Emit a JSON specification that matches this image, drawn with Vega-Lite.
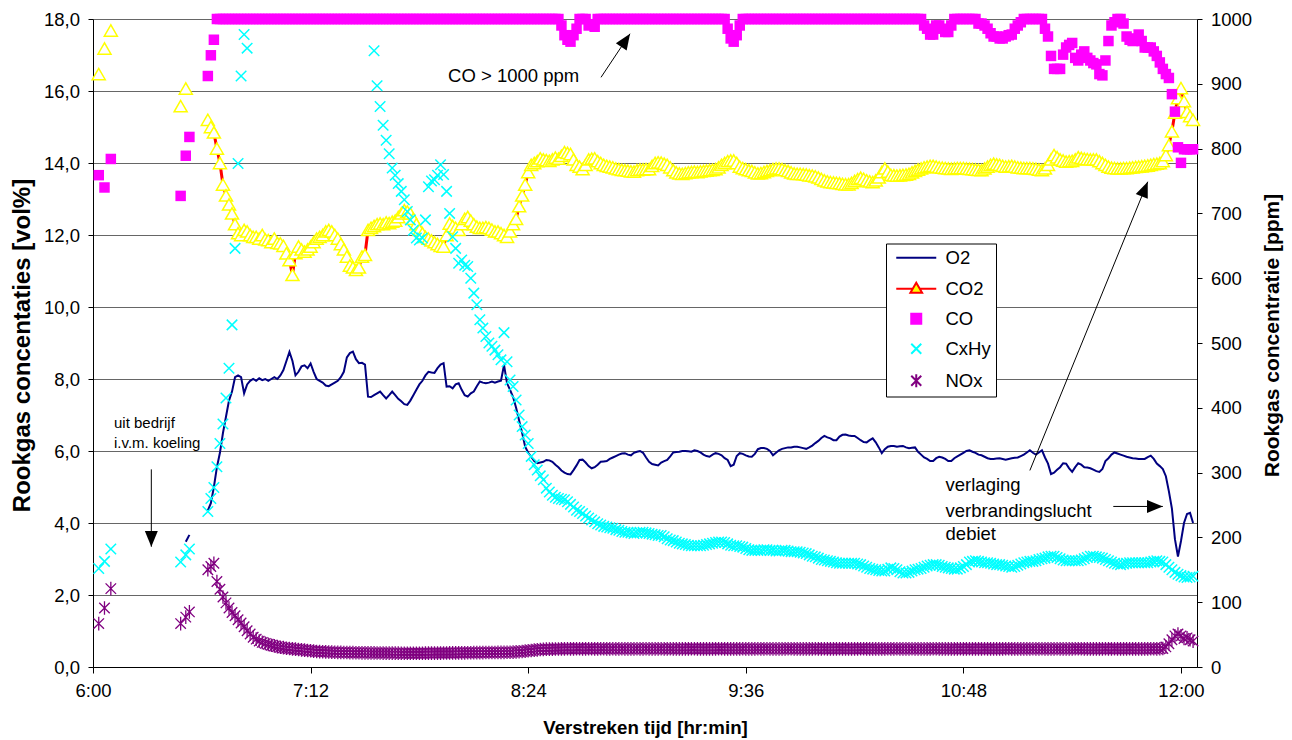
{
"$schema":"https://vega.github.io/schema/vega-lite/v6.json",
"width":1104,"height":648,
"autosize":{"type":"none"},
"padding":{"left":93,"top":19,"right":95,"bottom":73},
"background":"white",
"config":{"view":{"stroke":null},"font":"Liberation Sans","point":{"opacity":1},
"legend":{"padding":5,"strokeColor":"black","fillColor":"white","symbolOffset":16,"labelOffset":20,"rowPadding":11,"labelFontSize":18.5,"labelFont":"Liberation Sans","labelColor":"black","symbolSize":100,"symbolStrokeWidth":2,"labelLimit":0,"cornerRadius":0}},
"datasets":{
"gas":[
{"t":1.9,"s":11,"CO2":16.47,"CO":759,"CxHy":152,"NOx":67},
{"t":3.8,"s":12,"CO2":17.18,"CO":740,"CxHy":163,"NOx":91},
{"t":5.9,"s":13,"CO2":17.68,"CO":784,"CxHy":182,"NOx":121},
{"t":29,"s":21,"CO2":15.58,"CO":727,"CxHy":162,"NOx":67},
{"t":30.7,"s":22,"O2":3.48,"CO2":16.07,"CO":789,"CxHy":173,"NOx":77},
{"t":31.9,"s":22,"O2":3.67,"CO":818,"CxHy":182,"NOx":85},
{"t":38,"s":3,"O2":4.35,"CO2":15.2,"CO":912,"CxHy":240,"NOx":150},
{"t":39,"s":3,"O2":4.55,"CO2":15.0,"CO":944,"CxHy":260,"NOx":155},
{"t":40,"s":3,"O2":5.0,"CO2":14.85,"CO":968,"CxHy":277,"NOx":160},
{"t":41,"s":3,"O2":5.55,"CO2":14.4,"CO":1000,"CxHy":309,"NOx":132},
{"t":42,"s":3,"O2":5.95,"CO2":14.0,"CO":1000,"CxHy":345,"NOx":120},
{"t":43,"s":3,"O2":6.5,"CO2":13.4,"CO":1000,"CxHy":375,"NOx":108},
{"t":44,"s":3,"O2":6.95,"CO2":13.1,"CO":1000,"CxHy":415,"NOx":99},
{"t":45,"s":3,"O2":7.4,"CO2":12.85,"CO":1000,"CxHy":461,"NOx":91},
{"t":46,"s":3,"O2":7.65,"CO2":12.6,"CO":1000,"CxHy":528,"NOx":84},
{"t":47,"s":3,"O2":8.05,"CO2":12.3,"CO":1000,"CxHy":646,"NOx":79},
{"t":48,"s":3,"O2":8.1,"CO2":12.05,"CO":1000,"CxHy":777,"NOx":73},
{"t":49,"s":3,"O2":8.05,"CO2":12.0,"CO":1000,"CxHy":912,"NOx":68},
{"t":50,"s":3,"O2":7.6,"CO2":12.14,"CO":1000,"CxHy":976,"NOx":62},
{"t":51,"s":3,"O2":7.85,"CO2":12.1,"CO":1000,"CxHy":955,"NOx":56},
{"t":52,"s":3,"O2":7.95,"CO2":12.0,"CO":1000,"NOx":51},
{"t":53,"s":3,"O2":8.0,"CO2":11.95,"CO":1000,"NOx":46},
{"t":54,"s":3,"O2":7.95,"CO2":11.95,"CO":1000,"NOx":43},
{"t":55,"s":3,"O2":8.02,"CO2":11.9,"CO":1000,"NOx":40},
{"t":56,"s":3,"O2":7.97,"CO2":12.0,"CO":1000,"NOx":38},
{"t":57,"s":3,"O2":8.0,"CO2":11.88,"CO":1000,"NOx":36.5},
{"t":58,"s":3,"O2":7.95,"CO2":11.86,"CO":1000,"NOx":35},
{"t":59,"s":3,"O2":8.0,"CO2":11.8,"CO":1000,"NOx":33.5},
{"t":60,"s":3,"O2":8.05,"CO2":11.9,"CO":1000,"NOx":32.5},
{"t":61,"s":3,"O2":8.0,"CO2":11.78,"CO":1000,"NOx":31.5},
{"t":62,"s":3,"O2":8.1,"CO2":11.77,"CO":1000,"NOx":30.5},
{"t":63,"s":3,"O2":8.25,"CO2":11.7,"CO":1000,"NOx":29.8},
{"t":64,"s":3,"O2":8.5,"CO2":11.49,"CO":1000,"NOx":29},
{"t":65,"s":3,"O2":8.75,"CO2":11.3,"CO":1000,"NOx":28.5},
{"t":66,"s":3,"O2":8.5,"CO2":10.89,"CO":1000,"NOx":28},
{"t":67,"s":3,"O2":8.1,"CO2":11.5,"CO":1000,"NOx":27.5},
{"t":68,"s":3,"O2":8.2,"CO2":11.68,"CO":1000,"NOx":27},
{"t":69,"s":3,"O2":8.35,"CO2":11.6,"CO":1000,"NOx":26.5},
{"t":70,"s":3,"O2":8.38,"CO2":11.54,"CO":1000,"NOx":26},
{"t":71,"s":3,"O2":8.3,"CO2":11.6,"CO":1000,"NOx":25.5},
{"t":72,"s":3,"O2":8.43,"CO2":11.68,"CO":1000,"NOx":25},
{"t":73,"s":3,"O2":8.2,"CO2":11.8,"CO":1000,"NOx":24.5},
{"t":74,"s":3,"O2":8.0,"CO2":11.9,"CO":1000,"NOx":24},
{"t":75,"s":3,"O2":7.95,"CO2":11.95,"CO":1000,"NOx":23.8},
{"t":76,"s":3,"O2":7.9,"CO2":12.0,"CO":1000,"NOx":23.6},
{"t":77,"s":3,"O2":7.82,"CO2":12.1,"CO":1000,"NOx":23.4},
{"t":78,"s":3,"O2":7.8,"CO2":12.14,"CO":1000,"NOx":23.2},
{"t":79,"s":3,"O2":7.85,"CO2":12.1,"CO":1000,"NOx":23},
{"t":80,"s":3,"O2":7.9,"CO2":12.0,"CO":1000,"NOx":22.8},
{"t":81,"s":3,"O2":7.95,"CO2":11.9,"CO":1000,"NOx":22.6},
{"t":82,"s":3,"O2":8.05,"CO2":11.75,"CO":1000,"NOx":22.5},
{"t":83,"s":3,"O2":8.2,"CO2":11.6,"CO":1000,"NOx":22.4},
{"t":84,"s":3,"O2":8.6,"CO2":11.4,"CO":1000,"NOx":22.3},
{"t":85,"s":3,"O2":8.72,"CO2":11.15,"CO":1000,"NOx":22.2},
{"t":86,"s":3,"O2":8.76,"CO2":11.1,"CO":1000,"NOx":22.1},
{"t":87,"s":3,"O2":8.55,"CO2":11.03,"CO":1000,"NOx":22},
{"t":88,"s":3,"O2":8.44,"CO2":11.1,"CO":1000,"NOx":22},
{"t":89,"s":3,"O2":8.45,"CO2":11.4,"CO":1000,"NOx":21.9},
{"t":90,"s":3,"O2":8.4,"CO2":11.45,"CO":1000,"NOx":21.8},
{"t":91,"s":3,"O2":7.51,"CO2":12.14,"CO":1000,"NOx":21.8},
{"t":92,"s":3,"O2":7.5,"CO2":12.2,"CO":1000,"NOx":21.7},
{"t":93,"s":3,"O2":7.55,"CO2":12.25,"CO":1000,"CxHy":951,"NOx":21.7},
{"t":94,"s":3,"O2":7.6,"CO2":12.3,"CO":1000,"CxHy":897,"NOx":21.6},
{"t":95,"s":3,"O2":7.65,"CO2":12.32,"CO":1000,"CxHy":865,"NOx":21.6},
{"t":96,"s":3,"O2":7.55,"CO2":12.3,"CO":1000,"CxHy":836,"NOx":21.5},
{"t":97,"s":3,"O2":7.46,"CO2":12.35,"CO":1000,"CxHy":813,"NOx":21.5},
{"t":98,"s":3,"O2":7.55,"CO2":12.33,"CO":1000,"CxHy":792,"NOx":21.5},
{"t":99,"s":3,"O2":7.65,"CO2":12.37,"CO":1000,"CxHy":770,"NOx":21.4},
{"t":100,"s":3,"O2":7.55,"CO2":12.4,"CO":1000,"CxHy":759,"NOx":21.4},
{"t":101,"s":3,"O2":7.45,"CO2":12.5,"CO":1000,"CxHy":746,"NOx":21.4},
{"t":102,"s":3,"O2":7.38,"CO2":12.6,"CO":1000,"CxHy":734,"NOx":21.3},
{"t":103,"s":3,"O2":7.3,"CO2":12.69,"CO":1000,"CxHy":721,"NOx":21.3},
{"t":104,"s":3,"O2":7.28,"CO2":12.65,"CO":1000,"CxHy":703,"NOx":21.3},
{"t":105,"s":3,"O2":7.4,"CO2":12.6,"CO":1000,"CxHy":690,"NOx":21.3},
{"t":106,"s":3,"O2":7.55,"CO2":12.45,"CO":1000,"CxHy":674,"NOx":21.3},
{"t":107,"s":3,"O2":7.7,"CO2":12.3,"CO":1000,"CxHy":662,"NOx":21.3},
{"t":108,"s":3,"O2":7.85,"CO2":12.14,"CO":1000,"CxHy":659,"NOx":21.3},
{"t":109,"s":3,"O2":7.95,"CO2":12.05,"CO":1000,"CxHy":662,"NOx":21.3},
{"t":110,"s":3,"O2":8.1,"CO2":11.95,"CO":1000,"CxHy":690,"NOx":21.4},
{"t":111,"s":3,"O2":8.2,"CO2":11.9,"CO":1000,"CxHy":741,"NOx":21.4},
{"t":112,"s":3,"O2":8.18,"CO2":11.85,"CO":1000,"CxHy":750,"NOx":21.4},
{"t":113,"s":3,"O2":8.17,"CO2":11.8,"CO":1000,"CxHy":752,"NOx":21.5},
{"t":114,"s":3,"O2":8.3,"CO2":11.75,"CO":1000,"CxHy":759,"NOx":21.5},
{"t":115,"s":3,"O2":8.4,"CO2":11.7,"CO":1000,"CxHy":775,"NOx":21.5},
{"t":116,"s":3,"O2":8.44,"CO2":11.68,"CO":1000,"CxHy":760,"NOx":21.6},
{"t":117,"s":3,"O2":7.79,"CO2":12.0,"CO":1000,"CxHy":734,"NOx":21.6},
{"t":118,"s":3,"O2":7.8,"CO2":12.32,"CO":1000,"CxHy":700,"NOx":21.7},
{"t":119,"s":3,"O2":7.74,"CO2":12.25,"CO":1000,"CxHy":664,"NOx":21.7},
{"t":120,"s":3,"O2":7.85,"CO2":12.2,"CO":1000,"CxHy":646,"NOx":21.8},
{"t":121,"s":3,"O2":7.88,"CO2":12.14,"CO":1000,"CxHy":623,"NOx":21.8},
{"t":122,"s":3,"O2":7.7,"CO2":12.3,"CO":1000,"CxHy":628,"NOx":21.9},
{"t":123,"s":3,"O2":7.55,"CO2":12.45,"CO":1000,"CxHy":620,"NOx":21.9},
{"t":124,"s":3,"O2":7.51,"CO2":12.5,"CO":1000,"CxHy":618,"NOx":22},
{"t":125,"s":3,"O2":7.6,"CO2":12.4,"CO":1000,"CxHy":600,"NOx":22},
{"t":126,"s":3,"O2":7.65,"CO2":12.3,"CO":1000,"CxHy":577,"NOx":22.1},
{"t":127,"s":3,"O2":7.8,"CO2":12.23,"CO":1000,"CxHy":559,"NOx":22.1},
{"t":128,"s":3,"O2":7.93,"CO2":12.2,"CO":1000,"CxHy":536,"NOx":22.2},
{"t":129,"s":3,"O2":7.9,"CO2":12.2,"CO":1000,"CxHy":523,"NOx":22.2},
{"t":130,"s":3,"O2":7.88,"CO2":12.22,"CO":1000,"CxHy":510,"NOx":22.3},
{"t":131,"s":3,"O2":7.9,"CO2":12.2,"CO":1000,"CxHy":500,"NOx":22.3},
{"t":132,"s":3,"O2":7.93,"CO2":12.15,"CO":1000,"CxHy":495,"NOx":22.4},
{"t":133,"s":3,"O2":7.9,"CO2":12.1,"CO":1000,"CxHy":489,"NOx":22.4},
{"t":134,"s":3,"O2":7.93,"CO2":12.1,"CO":1000,"CxHy":482,"NOx":22.5},
{"t":135,"s":3,"O2":7.95,"CO2":12.05,"CO":1000,"CxHy":474,"NOx":22.5},
{"t":136,"s":3,"O2":8.39,"CO2":12.0,"CO":1000,"CxHy":516,"NOx":22.6},
{"t":137,"s":3,"O2":7.88,"CO2":11.95,"CO":1000,"CxHy":471,"NOx":22.7},
{"t":138,"s":3,"O2":7.7,"CO2":12.1,"CO":1000,"CxHy":443,"NOx":22.8},
{"t":139,"s":3,"O2":7.5,"CO2":12.3,"CO":1000,"CxHy":433,"NOx":23},
{"t":140,"s":3,"O2":7.2,"CO2":12.45,"CO":1000,"CxHy":412,"NOx":23.3},
{"t":141,"s":3,"O2":6.85,"CO2":12.8,"CO":1000,"CxHy":389,"NOx":23.6},
{"t":142,"s":3,"O2":6.5,"CO2":13.1,"CO":1000,"CxHy":371,"NOx":24},
{"t":143,"s":3,"O2":6.12,"CO2":13.4,"CO":1000,"CxHy":358,"NOx":24.5},
{"t":144,"s":3,"O2":5.95,"CO2":13.75,"CO":1000,"CxHy":345,"NOx":25},
{"t":145,"s":3,"O2":5.84,"CO2":13.95,"CO":1000,"CxHy":325,"NOx":25.5},
{"t":146,"s":3,"O2":5.72,"CO2":14.0,"CO":1000,"CxHy":312,"NOx":26},
{"t":147,"s":3,"O2":5.66,"CO2":14.05,"CO":1000,"CxHy":304,"NOx":26.5},
{"t":148,"s":3,"O2":5.68,"CO2":14.13,"CO":1000,"CxHy":295,"NOx":27},
{"t":149,"s":3,"O2":5.7,"CO2":14.1,"CO":1000,"CxHy":289,"NOx":27.2},
{"t":150,"s":3,"O2":5.75,"CO2":14.08,"CO":1000,"CxHy":276,"NOx":27.5},
{"t":151,"s":3,"O2":5.74,"CO2":14.06,"CO":1000,"CxHy":270,"NOx":27.5},
{"t":152,"s":3,"O2":5.7,"CO2":14.1,"CO":1000,"CxHy":265,"NOx":27.6},
{"t":153,"s":3,"O2":5.62,"CO2":14.15,"CO":1000,"CxHy":262,"NOx":27.7},
{"t":154,"s":3,"O2":5.55,"CO2":14.12,"CO":1000,"CxHy":260,"NOx":27.8},
{"t":155,"s":3,"O2":5.46,"CO2":14.2,"CO":990,"CxHy":259,"NOx":27.9},
{"t":156,"s":3,"O2":5.4,"CO2":14.3,"CO":975,"CxHy":258,"NOx":28},
{"t":157,"s":3,"O2":5.36,"CO2":14.28,"CO":968,"CxHy":255,"NOx":28.1},
{"t":158,"s":3,"O2":5.35,"CO2":14.25,"CO":965,"CxHy":251,"NOx":28},
{"t":159,"s":3,"O2":5.47,"CO2":14.1,"CO":975,"CxHy":247,"NOx":28},
{"t":160,"s":3,"O2":5.6,"CO2":13.95,"CO":985,"CxHy":242,"NOx":28.2},
{"t":161,"s":3,"O2":5.75,"CO2":13.9,"CO":1000,"CxHy":240,"NOx":28.1},
{"t":162,"s":3,"O2":5.76,"CO2":13.83,"CO":1000,"CxHy":237,"NOx":28},
{"t":163,"s":3,"O2":5.68,"CO2":13.95,"CO":1000,"CxHy":233,"NOx":27.9},
{"t":164,"s":3,"O2":5.58,"CO2":14.1,"CO":990,"CxHy":230,"NOx":28.1},
{"t":165,"s":3,"O2":5.52,"CO2":14.12,"CO":992,"CxHy":227,"NOx":28.1},
{"t":166,"s":3,"O2":5.55,"CO2":14.13,"CO":988,"CxHy":224,"NOx":28},
{"t":167,"s":3,"O2":5.62,"CO2":14.05,"CO":1000,"CxHy":221,"NOx":28},
{"t":168,"s":3,"O2":5.7,"CO2":14.0,"CO":1000,"CxHy":219,"NOx":28.2},
{"t":169,"s":3,"O2":5.71,"CO2":13.95,"CO":1000,"CxHy":217,"NOx":28.1},
{"t":170,"s":3,"O2":5.72,"CO2":13.92,"CO":1000,"CxHy":216,"NOx":28},
{"t":171,"s":3,"O2":5.78,"CO2":13.9,"CO":1000,"CxHy":215,"NOx":27.9},
{"t":172,"s":3,"O2":5.82,"CO2":13.88,"CO":1000,"CxHy":214,"NOx":28.1},
{"t":173,"s":3,"O2":5.86,"CO2":13.85,"CO":1000,"CxHy":212,"NOx":28},
{"t":174,"s":3,"O2":5.9,"CO2":13.83,"CO":1000,"CxHy":211,"NOx":28},
{"t":175,"s":3,"O2":5.93,"CO2":13.81,"CO":1000,"CxHy":209,"NOx":28.1},
{"t":176,"s":3,"O2":5.94,"CO2":13.8,"CO":1000,"CxHy":208,"NOx":27.9},
{"t":177,"s":3,"O2":5.9,"CO2":13.79,"CO":1000,"CxHy":208,"NOx":28},
{"t":178,"s":3,"O2":5.88,"CO2":13.77,"CO":1000,"CxHy":207,"NOx":28},
{"t":179,"s":3,"O2":5.95,"CO2":13.76,"CO":1000,"CxHy":206,"NOx":27.9},
{"t":180,"s":3,"O2":5.98,"CO2":13.8,"CO":1000,"CxHy":207,"NOx":28.1},
{"t":181,"s":3,"O2":6.0,"CO2":13.82,"CO":1000,"CxHy":208,"NOx":28},
{"t":182,"s":3,"O2":5.95,"CO2":13.82,"CO":1000,"CxHy":208,"NOx":28},
{"t":183,"s":3,"O2":5.82,"CO2":13.83,"CO":1000,"CxHy":207,"NOx":28.1},
{"t":184,"s":3,"O2":5.7,"CO2":13.83,"CO":1000,"CxHy":206,"NOx":27.9},
{"t":185,"s":3,"O2":5.64,"CO2":13.92,"CO":1000,"CxHy":205,"NOx":28},
{"t":186,"s":3,"O2":5.62,"CO2":14.0,"CO":1000,"CxHy":204,"NOx":28},
{"t":187,"s":3,"O2":5.6,"CO2":14.02,"CO":1000,"CxHy":203,"NOx":27.9},
{"t":188,"s":3,"O2":5.68,"CO2":14.01,"CO":1000,"CxHy":203,"NOx":28.1},
{"t":189,"s":3,"O2":5.72,"CO2":13.98,"CO":1000,"CxHy":201,"NOx":28},
{"t":190,"s":3,"O2":5.75,"CO2":13.95,"CO":1000,"CxHy":198,"NOx":28},
{"t":191,"s":3,"O2":5.85,"CO2":13.88,"CO":1000,"CxHy":196,"NOx":28.1},
{"t":192,"s":3,"O2":5.96,"CO2":13.8,"CO":1000,"CxHy":195,"NOx":27.9},
{"t":193,"s":3,"O2":5.97,"CO2":13.74,"CO":1000,"CxHy":193,"NOx":28},
{"t":194,"s":3,"O2":5.98,"CO2":13.71,"CO":1000,"CxHy":191,"NOx":28},
{"t":195,"s":3,"O2":6.0,"CO2":13.7,"CO":1000,"CxHy":190,"NOx":27.9},
{"t":196,"s":3,"O2":6.0,"CO2":13.72,"CO":1000,"CxHy":189,"NOx":28},
{"t":197,"s":3,"O2":5.99,"CO2":13.74,"CO":1000,"CxHy":188,"NOx":28},
{"t":198,"s":3,"O2":5.98,"CO2":13.75,"CO":1000,"CxHy":187,"NOx":28.1},
{"t":199,"s":3,"O2":6.02,"CO2":13.76,"CO":1000,"CxHy":187,"NOx":28.1},
{"t":200,"s":3,"O2":6.0,"CO2":13.75,"CO":1000,"CxHy":187,"NOx":28},
{"t":201,"s":3,"O2":5.96,"CO2":13.77,"CO":1000,"CxHy":187,"NOx":28},
{"t":202,"s":3,"O2":5.9,"CO2":13.78,"CO":1000,"CxHy":188,"NOx":27.9},
{"t":203,"s":3,"O2":5.86,"CO2":13.79,"CO":1000,"CxHy":189,"NOx":27.9},
{"t":204,"s":3,"O2":5.84,"CO2":13.8,"CO":1000,"CxHy":190,"NOx":28},
{"t":205,"s":3,"O2":5.9,"CO2":13.81,"CO":1000,"CxHy":191,"NOx":28},
{"t":206,"s":3,"O2":5.94,"CO2":13.83,"CO":1000,"CxHy":192,"NOx":28},
{"t":207,"s":3,"O2":5.92,"CO2":13.88,"CO":1000,"CxHy":193,"NOx":28.1},
{"t":208,"s":3,"O2":5.88,"CO2":13.95,"CO":1000,"CxHy":193,"NOx":28.1},
{"t":209,"s":3,"O2":5.8,"CO2":14.0,"CO":1000,"CxHy":192,"NOx":28},
{"t":210,"s":3,"O2":5.75,"CO2":14.05,"CO":985,"CxHy":190,"NOx":28},
{"t":211,"s":3,"O2":5.58,"CO2":14.07,"CO":970,"CxHy":188,"NOx":27.9},
{"t":212,"s":3,"O2":5.62,"CO2":14.07,"CO":965,"CxHy":187,"NOx":28},
{"t":213,"s":3,"O2":5.86,"CO2":14.0,"CO":975,"CxHy":187,"NOx":28},
{"t":214,"s":3,"O2":5.94,"CO2":13.9,"CO":990,"CxHy":186,"NOx":27.9},
{"t":215,"s":3,"O2":5.92,"CO2":13.86,"CO":1000,"CxHy":185,"NOx":28.1},
{"t":216,"s":3,"O2":5.88,"CO2":13.83,"CO":1000,"CxHy":183,"NOx":28},
{"t":217,"s":3,"O2":5.85,"CO2":13.8,"CO":1000,"CxHy":181,"NOx":28},
{"t":218,"s":3,"O2":5.84,"CO2":13.78,"CO":1000,"CxHy":180,"NOx":28},
{"t":219,"s":3,"O2":5.92,"CO2":13.74,"CO":1000,"CxHy":180,"NOx":27.9},
{"t":220,"s":3,"O2":6.05,"CO2":13.71,"CO":1000,"CxHy":180,"NOx":28.1},
{"t":221,"s":3,"O2":6.08,"CO2":13.72,"CO":1000,"CxHy":180,"NOx":28},
{"t":222,"s":3,"O2":6.08,"CO2":13.75,"CO":1000,"CxHy":181,"NOx":28},
{"t":223,"s":3,"O2":6.06,"CO2":13.78,"CO":1000,"CxHy":181,"NOx":28.1},
{"t":224,"s":3,"O2":6.0,"CO2":13.8,"CO":1000,"CxHy":180,"NOx":27.9},
{"t":225,"s":3,"O2":5.88,"CO2":13.83,"CO":1000,"CxHy":180,"NOx":28},
{"t":226,"s":3,"O2":5.95,"CO2":13.85,"CO":1000,"CxHy":179,"NOx":28},
{"t":227,"s":3,"O2":6.02,"CO2":13.85,"CO":1000,"CxHy":179,"NOx":27.9},
{"t":228,"s":3,"O2":6.06,"CO2":13.83,"CO":1000,"CxHy":180,"NOx":28},
{"t":229,"s":3,"O2":6.08,"CO2":13.8,"CO":1000,"CxHy":180,"NOx":28},
{"t":230,"s":3,"O2":6.1,"CO2":13.78,"CO":1000,"CxHy":179,"NOx":28.1},
{"t":231,"s":3,"O2":6.1,"CO2":13.74,"CO":1000,"CxHy":178,"NOx":28.1},
{"t":232,"s":3,"O2":6.12,"CO2":13.71,"CO":1000,"CxHy":178,"NOx":28},
{"t":233,"s":3,"O2":6.12,"CO2":13.7,"CO":1000,"CxHy":178,"NOx":28},
{"t":234,"s":3,"O2":6.1,"CO2":13.7,"CO":1000,"CxHy":177,"NOx":28},
{"t":235,"s":3,"O2":6.08,"CO2":13.69,"CO":1000,"CxHy":176,"NOx":27.9},
{"t":236,"s":3,"O2":6.06,"CO2":13.68,"CO":1000,"CxHy":175,"NOx":27.9},
{"t":237,"s":3,"O2":6.1,"CO2":13.66,"CO":1000,"CxHy":173,"NOx":28},
{"t":238,"s":3,"O2":6.15,"CO2":13.65,"CO":1000,"CxHy":171,"NOx":28},
{"t":239,"s":3,"O2":6.22,"CO2":13.63,"CO":1000,"CxHy":170,"NOx":28.1},
{"t":240,"s":3,"O2":6.28,"CO2":13.6,"CO":1000,"CxHy":168,"NOx":28},
{"t":241,"s":3,"O2":6.36,"CO2":13.56,"CO":1000,"CxHy":166,"NOx":28},
{"t":242,"s":3,"O2":6.42,"CO2":13.52,"CO":1000,"CxHy":165,"NOx":28.1},
{"t":243,"s":3,"O2":6.38,"CO2":13.49,"CO":1000,"CxHy":164,"NOx":27.9},
{"t":244,"s":3,"O2":6.35,"CO2":13.47,"CO":1000,"CxHy":163,"NOx":28},
{"t":245,"s":3,"O2":6.3,"CO2":13.46,"CO":1000,"CxHy":162,"NOx":28},
{"t":246,"s":3,"O2":6.3,"CO2":13.45,"CO":1000,"CxHy":161,"NOx":28},
{"t":247,"s":3,"O2":6.4,"CO2":13.44,"CO":1000,"CxHy":160,"NOx":28.1},
{"t":248,"s":3,"O2":6.45,"CO2":13.42,"CO":1000,"CxHy":160,"NOx":27.9},
{"t":249,"s":3,"O2":6.46,"CO2":13.41,"CO":1000,"CxHy":160,"NOx":28},
{"t":250,"s":3,"O2":6.43,"CO2":13.41,"CO":1000,"CxHy":160,"NOx":28},
{"t":251,"s":3,"O2":6.42,"CO2":13.45,"CO":1000,"CxHy":160,"NOx":27.9},
{"t":252,"s":3,"O2":6.42,"CO2":13.5,"CO":1000,"CxHy":160,"NOx":28},
{"t":253,"s":3,"O2":6.36,"CO2":13.55,"CO":1000,"CxHy":159,"NOx":28},
{"t":254,"s":3,"O2":6.3,"CO2":13.59,"CO":1000,"CxHy":158,"NOx":28.1},
{"t":255,"s":3,"O2":6.25,"CO2":13.56,"CO":1000,"CxHy":156,"NOx":28.1},
{"t":256,"s":3,"O2":6.24,"CO2":13.52,"CO":1000,"CxHy":154,"NOx":28},
{"t":257,"s":3,"O2":6.3,"CO2":13.49,"CO":1000,"CxHy":152,"NOx":28},
{"t":258,"s":3,"O2":6.35,"CO2":13.47,"CO":1000,"CxHy":151,"NOx":28},
{"t":259,"s":3,"O2":6.24,"CO2":13.52,"CO":1000,"CxHy":150,"NOx":27.9},
{"t":260,"s":3,"O2":6.1,"CO2":13.6,"CO":1000,"CxHy":149,"NOx":27.9},
{"t":261,"s":3,"O2":5.94,"CO2":13.75,"CO":1000,"CxHy":148,"NOx":28},
{"t":262,"s":3,"O2":6.05,"CO2":13.85,"CO":1000,"CxHy":148,"NOx":28},
{"t":263,"s":3,"O2":6.12,"CO2":13.76,"CO":1000,"CxHy":151,"NOx":28.1},
{"t":264,"s":3,"O2":6.14,"CO2":13.67,"CO":1000,"CxHy":153,"NOx":28},
{"t":265,"s":3,"O2":6.14,"CO2":13.66,"CO":1000,"CxHy":152,"NOx":28},
{"t":266,"s":3,"O2":6.12,"CO2":13.65,"CO":1000,"CxHy":150,"NOx":28.1},
{"t":267,"s":3,"O2":6.13,"CO2":13.66,"CO":1000,"CxHy":147,"NOx":27.9},
{"t":268,"s":3,"O2":6.14,"CO2":13.67,"CO":1000,"CxHy":145,"NOx":28},
{"t":269,"s":3,"O2":6.1,"CO2":13.68,"CO":1000,"CxHy":145,"NOx":28},
{"t":270,"s":3,"O2":6.08,"CO2":13.7,"CO":1000,"CxHy":146,"NOx":28},
{"t":271,"s":3,"O2":6.09,"CO2":13.74,"CO":1000,"CxHy":148,"NOx":28.1},
{"t":272,"s":3,"O2":6.1,"CO2":13.78,"CO":1000,"CxHy":150,"NOx":27.9},
{"t":273,"s":3,"O2":5.98,"CO2":13.82,"CO":1000,"CxHy":151,"NOx":28},
{"t":274,"s":3,"O2":5.9,"CO2":13.85,"CO":1000,"CxHy":152,"NOx":28},
{"t":275,"s":3,"O2":5.82,"CO2":13.88,"CO":990,"CxHy":154,"NOx":27.9},
{"t":276,"s":3,"O2":5.78,"CO2":13.9,"CO":985,"CxHy":156,"NOx":28},
{"t":277,"s":3,"O2":5.72,"CO2":13.92,"CO":976,"CxHy":157,"NOx":28},
{"t":278,"s":3,"O2":5.72,"CO2":13.92,"CO":976,"CxHy":158,"NOx":28.1},
{"t":279,"s":3,"O2":5.8,"CO2":13.9,"CO":990,"CxHy":158,"NOx":28.1},
{"t":280,"s":3,"O2":5.84,"CO2":13.88,"CO":990,"CxHy":157,"NOx":28},
{"t":281,"s":3,"O2":5.82,"CO2":13.87,"CO":985,"CxHy":155,"NOx":28},
{"t":282,"s":3,"O2":5.78,"CO2":13.86,"CO":980,"CxHy":154,"NOx":28},
{"t":283,"s":3,"O2":5.72,"CO2":13.85,"CO":980,"CxHy":153,"NOx":27.9},
{"t":284,"s":3,"O2":5.72,"CO2":13.84,"CO":990,"CxHy":152,"NOx":27.9},
{"t":285,"s":3,"O2":5.8,"CO2":13.85,"CO":1000,"CxHy":151,"NOx":28},
{"t":286,"s":3,"O2":5.85,"CO2":13.86,"CO":1000,"CxHy":151,"NOx":28},
{"t":287,"s":3,"O2":5.9,"CO2":13.86,"CO":1000,"CxHy":153,"NOx":28.1},
{"t":288,"s":3,"O2":5.95,"CO2":13.86,"CO":1000,"CxHy":155,"NOx":28},
{"t":289,"s":3,"O2":6.0,"CO2":13.85,"CO":1000,"CxHy":158,"NOx":28},
{"t":290,"s":3,"O2":6.02,"CO2":13.84,"CO":1000,"CxHy":162,"NOx":28.1},
{"t":291,"s":3,"O2":5.98,"CO2":13.83,"CO":1000,"CxHy":163,"NOx":27.9},
{"t":292,"s":3,"O2":5.95,"CO2":13.82,"CO":1000,"CxHy":164,"NOx":28},
{"t":293,"s":3,"O2":5.9,"CO2":13.81,"CO":993,"CxHy":163,"NOx":28},
{"t":294,"s":3,"O2":5.88,"CO2":13.8,"CO":993,"CxHy":162,"NOx":28},
{"t":295,"s":3,"O2":5.84,"CO2":13.85,"CO":990,"CxHy":161,"NOx":28.1},
{"t":296,"s":3,"O2":5.8,"CO2":13.9,"CO":985,"CxHy":161,"NOx":27.9},
{"t":297,"s":3,"O2":5.78,"CO2":13.95,"CO":978,"CxHy":160,"NOx":28},
{"t":298,"s":3,"O2":5.78,"CO2":13.98,"CO":973,"CxHy":159,"NOx":28},
{"t":299,"s":3,"O2":5.79,"CO2":13.96,"CO":973,"CxHy":158,"NOx":27.9},
{"t":300,"s":3,"O2":5.8,"CO2":13.95,"CO":970,"CxHy":158,"NOx":28},
{"t":301,"s":3,"O2":5.78,"CO2":13.92,"CO":970,"CxHy":157,"NOx":28},
{"t":302,"s":3,"O2":5.76,"CO2":13.9,"CO":973,"CxHy":156,"NOx":28.1},
{"t":303,"s":3,"O2":5.78,"CO2":13.91,"CO":975,"CxHy":155,"NOx":28.1},
{"t":304,"s":3,"O2":5.8,"CO2":13.92,"CO":976,"CxHy":154,"NOx":28},
{"t":305,"s":3,"O2":5.81,"CO2":13.9,"CO":985,"CxHy":155,"NOx":28},
{"t":306,"s":3,"O2":5.82,"CO2":13.88,"CO":990,"CxHy":157,"NOx":28},
{"t":307,"s":3,"O2":5.86,"CO2":13.87,"CO":995,"CxHy":159,"NOx":27.9},
{"t":308,"s":3,"O2":5.9,"CO2":13.86,"CO":1000,"CxHy":161,"NOx":27.9},
{"t":309,"s":3,"O2":5.96,"CO2":13.86,"CO":1000,"CxHy":162,"NOx":28},
{"t":310,"s":3,"O2":6.02,"CO2":13.86,"CO":1000,"CxHy":163,"NOx":28},
{"t":311,"s":3,"O2":5.95,"CO2":13.85,"CO":1000,"CxHy":163,"NOx":28.1},
{"t":312,"s":3,"O2":5.9,"CO2":13.84,"CO":1000,"CxHy":164,"NOx":28},
{"t":313,"s":3,"O2":5.96,"CO2":13.82,"CO":1000,"CxHy":166,"NOx":28},
{"t":314,"s":3,"O2":6.02,"CO2":13.8,"CO":1000,"CxHy":167,"NOx":28.1},
{"t":315,"s":3,"O2":5.82,"CO2":13.85,"CO":985,"CxHy":168,"NOx":27.9},
{"t":316,"s":3,"O2":5.65,"CO2":13.95,"CO":973,"CxHy":170,"NOx":28},
{"t":317,"s":3,"O2":5.36,"CO2":14.1,"CO":943,"CxHy":171,"NOx":28},
{"t":318,"s":3,"O2":5.4,"CO2":14.22,"CO":923,"CxHy":171,"NOx":28},
{"t":319,"s":3,"O2":5.48,"CO2":14.16,"CO":923,"CxHy":169,"NOx":28.1},
{"t":320,"s":3,"O2":5.55,"CO2":14.1,"CO":923,"CxHy":167,"NOx":27.9},
{"t":321,"s":3,"O2":5.66,"CO2":14.07,"CO":945,"CxHy":165,"NOx":28},
{"t":322,"s":3,"O2":5.65,"CO2":14.04,"CO":956,"CxHy":164,"NOx":28},
{"t":323,"s":3,"O2":5.52,"CO2":14.05,"CO":960,"CxHy":164,"NOx":27.9},
{"t":324,"s":3,"O2":5.42,"CO2":14.06,"CO":963,"CxHy":164,"NOx":28},
{"t":325,"s":3,"O2":5.55,"CO2":14.1,"CO":940,"CxHy":164,"NOx":28.1},
{"t":326,"s":3,"O2":5.66,"CO2":14.16,"CO":936,"CxHy":164,"NOx":28.1},
{"t":327,"s":3,"O2":5.62,"CO2":14.14,"CO":945,"CxHy":165,"NOx":28.1},
{"t":328,"s":3,"O2":5.55,"CO2":14.12,"CO":950,"CxHy":167,"NOx":28},
{"t":329,"s":3,"O2":5.54,"CO2":14.11,"CO":940,"CxHy":169,"NOx":28},
{"t":330,"s":3,"O2":5.52,"CO2":14.1,"CO":936,"CxHy":171,"NOx":28},
{"t":331,"s":3,"O2":5.48,"CO2":14.1,"CO":932,"CxHy":171,"NOx":27.9},
{"t":332,"s":3,"O2":5.44,"CO2":14.1,"CO":930,"CxHy":170,"NOx":27.9},
{"t":333,"s":3,"O2":5.42,"CO2":14.05,"CO":915,"CxHy":169,"NOx":28},
{"t":334,"s":3,"O2":5.5,"CO2":14.0,"CO":913,"CxHy":168,"NOx":28},
{"t":335,"s":3,"O2":5.72,"CO2":13.95,"CO":936,"CxHy":166,"NOx":28.1},
{"t":336,"s":3,"O2":5.8,"CO2":13.9,"CO":966,"CxHy":164,"NOx":28},
{"t":337,"s":3,"O2":5.9,"CO2":13.87,"CO":990,"CxHy":162,"NOx":28},
{"t":338,"s":3,"O2":5.96,"CO2":13.86,"CO":995,"CxHy":160,"NOx":28.1},
{"t":339,"s":3,"O2":5.93,"CO2":13.85,"CO":1000,"CxHy":159,"NOx":27.9},
{"t":340,"s":3,"O2":5.9,"CO2":13.85,"CO":1000,"CxHy":158,"NOx":28},
{"t":341,"s":3,"O2":5.87,"CO2":13.86,"CO":993,"CxHy":159,"NOx":28},
{"t":342,"s":3,"O2":5.84,"CO2":13.86,"CO":973,"CxHy":160,"NOx":28},
{"t":343,"s":3,"O2":5.82,"CO2":13.87,"CO":968,"CxHy":161,"NOx":28.1},
{"t":344,"s":3,"O2":5.8,"CO2":13.88,"CO":966,"CxHy":161,"NOx":27.9},
{"t":345,"s":3,"O2":5.79,"CO2":13.89,"CO":970,"CxHy":161,"NOx":28},
{"t":346,"s":3,"O2":5.78,"CO2":13.9,"CO":976,"CxHy":161,"NOx":28},
{"t":347,"s":3,"O2":5.78,"CO2":13.91,"CO":966,"CxHy":161,"NOx":27.9},
{"t":348,"s":3,"O2":5.78,"CO2":13.92,"CO":956,"CxHy":161,"NOx":28},
{"t":349,"s":3,"O2":5.83,"CO2":13.93,"CO":956,"CxHy":161,"NOx":28},
{"t":350,"s":3,"O2":5.87,"CO2":13.95,"CO":956,"CxHy":162,"NOx":28.1},
{"t":351,"s":3,"O2":5.78,"CO2":13.97,"CO":950,"CxHy":163,"NOx":28.1},
{"t":352,"s":3,"O2":5.65,"CO2":13.98,"CO":943,"CxHy":164,"NOx":28},
{"t":353,"s":3,"O2":5.58,"CO2":14.0,"CO":933,"CxHy":163,"NOx":28.2},
{"t":354,"s":3,"O2":5.5,"CO2":14.05,"CO":923,"CxHy":162,"NOx":28.5},
{"t":355,"s":3,"O2":5.3,"CO2":14.22,"CO":915,"CxHy":158,"NOx":31},
{"t":356,"s":3,"O2":4.88,"CO2":14.5,"CO":909,"CxHy":154,"NOx":36},
{"t":357,"s":3,"O2":4.4,"CO2":14.88,"CO":884,"CxHy":150,"NOx":42},
{"t":358,"s":3,"O2":3.55,"CO2":15.4,"CO":857,"CxHy":146,"NOx":48},
{"t":359,"s":3,"O2":3.07,"CO2":15.8,"CO":802,"CxHy":143,"NOx":51},
{"t":360,"s":3,"O2":3.5,"CO2":16.08,"CO":778,"CxHy":141,"NOx":48},
{"t":361,"s":3,"O2":4.0,"CO2":15.72,"CO":799,"CxHy":139,"NOx":44},
{"t":362,"s":3,"O2":4.25,"CO2":15.42,"CO":799,"CxHy":138,"NOx":45},
{"t":363,"s":3,"O2":4.28,"CO2":15.3,"CO":799,"CxHy":139,"NOx":42},
{"t":364,"s":3,"O2":4.0,"CO2":15.2,"CO":799,"CxHy":140,"NOx":40}
],
"notes":[
{"label":"CO > 1000 ppm","t":117.5,"v":16.24},
{"label":"verlaging","t":282.1,"v":4.89},
{"label":"verbrandingslucht","t":282.1,"v":4.18},
{"label":"debiet","t":282.1,"v":3.53}
],
"notes_small":[
{"label":"uit bedrijf","t":6.95,"v":6.65},
{"label":"i.v.m. koeling","t":6.95,"v":6.075}
],
"arrows":[
{"t":168.1,"v":16.38,"t2":177.7,"v2":17.59},
{"t":19.3,"v":5.49,"t2":19.3,"v2":3.34},
{"t":337.6,"v":4.46,"t2":354.0,"v2":4.46},
{"t":310.0,"v":5.46,"t2":349.0,"v2":13.48}
]
},
"data":{"name":"gas"},
"encoding":{
"x":{"field":"t","type":"quantitative","scale":{"domain":[0,365.3],"nice":false,"zero":false},
"axis":{"title":"Verstreken tijd [hr:min]","values":[0,72,144,216,288,360],
"labelExpr":"(6+floor(datum.value/60)) + ':' + ((datum.value%60)<10 ? '0' : '') + (datum.value%60)",
"labelFlush":false,"labelOverlap":false,"grid":false,"domainColor":"black","tickColor":"black","tickSize":6,"labelPadding":8,
"labelFont":"Liberation Sans","labelFontSize":18.5,"labelColor":"black",
"titleFont":"Liberation Sans","titleFontSize":18.7,"titleFontWeight":"bold","titleColor":"black","titleY":66,"titleBaseline":"alphabetic"}}
},
"layer":[
{
"encoding":{"y":{"field":"v","type":"quantitative","scale":{"domain":[0,18],"nice":false},
"axis":{"title":"Rookgas concentaties [vol%]","values":[0,2,4,6,8,10,12,14,16,18],
"labelExpr":"replace(format(datum.value,'.1f'),'.',',')","grid":true,"gridColor":"#666666","gridWidth":1,
"domainColor":"black","tickColor":"black","tickSize":5,"labelPadding":8.5,
"labelFont":"Liberation Sans","labelFontSize":18.5,"labelColor":"black",
"titleFont":"Liberation Sans","titleFontSize":24,"titleFontWeight":"bold","titleColor":"black",
"titleX":-63.5,"titleY":326,"titleAngle":-90,"titleAlign":"center","titleBaseline":"alphabetic"}}},
"layer":[
{"transform":[{"fold":["O2"],"as":["series","v"]}],
"mark":{"type":"line","color":"#000080","strokeWidth":2},
"encoding":{"detail":{"field":"s","type":"nominal"}}},
{"transform":[{"fold":["CO2"],"as":["series","v"]}],
"mark":{"type":"line","color":"#FF0000","strokeWidth":3},
"encoding":{"detail":{"field":"s","type":"nominal"}}},
{"transform":[{"fold":["CO2"],"as":["series","v"]}],
"mark":{"type":"point","shape":"triangle-up","filled":true,"fill":"white","stroke":"#FFFF00","size":170,"strokeWidth":1.5,"opacity":1},
"encoding":{}},
{"data":{"name":"notes"},"mark":{"type":"text","align":"left","baseline":"alphabetic","font":"Liberation Sans","fontSize":18.5,"color":"black"},
"encoding":{"text":{"field":"label","type":"nominal"}}},
{"data":{"name":"notes_small"},"mark":{"type":"text","align":"left","baseline":"alphabetic","font":"Liberation Sans","fontSize":15,"color":"black"},
"encoding":{"text":{"field":"label","type":"nominal"}}},
{"data":{"name":"arrows"},"mark":{"type":"rule","color":"black","strokeWidth":1},
"encoding":{"x2":{"field":"t2"},"y2":{"field":"v2"}}},
{"data":{"name":"arrows"},
"transform":[{"calculate":"atan2((datum.t2-datum.t)*1104/365.3,(datum.v2-datum.v)*36)*180/PI","as":"ang"},{"calculate":"datum.t2","as":"t"},{"calculate":"datum.v2","as":"v"}],
"mark":{"type":"point","shape":"M0,0L-0.45,1.1L0.45,1.1Z","size":830,"filled":true,"color":"black","opacity":1,"strokeWidth":0},
"encoding":{"angle":{"field":"ang","type":"quantitative","scale":null}}}
]
},
{
"encoding":{"y":{"field":"v","type":"quantitative","scale":{"domain":[0,1000],"nice":false},
"axis":{"orient":"right","title":"Rookgas concentratie [ppm]","values":[0,100,200,300,400,500,600,700,800,900,1000],"format":"d","grid":false,
"domainColor":"black","tickColor":"black","tickSize":5,"labelPadding":8.5,
"labelFont":"Liberation Sans","labelFontSize":18.5,"labelColor":"black",
"titleFont":"Liberation Sans","titleFontSize":21,"titleFontWeight":"bold","titleColor":"black",
"titleX":81.5,"titleY":316,"titleAngle":-90,"titleAlign":"center","titleBaseline":"alphabetic"}}},
"layer":[
{"transform":[{"fold":["CO"],"as":["series","v"]}],
"mark":{"type":"point","filled":true,"size":110,"strokeWidth":0,"opacity":1},
"encoding":{
"shape":{"field":"series","type":"nominal","title":null,"scale":{"domain":["O2","CO2","CO","CxHy","NOx"],"range":["M-4,0L4,0","M-4,0L-0.7,0M0.7,0L4,0M0,-1.2L1.17,0.8L-1.17,0.8Z","square","M-1,-1L1,1M-1,1L1,-1","M-1,-1L1,1M-1,1L1,-1M0,-1.3L0,1.3"]},"legend":{"orient":"none","legendX":793,"legendY":224.5,"title":null}},
"fill":{"field":"series","type":"nominal","title":null,"scale":{"domain":["O2","CO2","CO","CxHy","NOx"],"range":["transparent","#FFFF00","#FF00FF","transparent","transparent"]},"legend":{"orient":"none","legendX":793,"legendY":224.5,"title":null}},
"stroke":{"field":"series","type":"nominal","title":null,"scale":{"domain":["O2","CO2","CO","CxHy","NOx"],"range":["#000080","#FF0000","#FF00FF","#00FFFF","#800080"]},"legend":{"orient":"none","legendX":793,"legendY":224.5,"title":null}}}},
{"transform":[{"fold":["CxHy"],"as":["series","v"]}],
"mark":{"type":"point","filled":true,"size":110,"strokeWidth":1.5,"opacity":1},
"encoding":{
"shape":{"field":"series","type":"nominal","title":null,"scale":{"domain":["O2","CO2","CO","CxHy","NOx"],"range":["M-4,0L4,0","M-4,0L-0.7,0M0.7,0L4,0M0,-1.2L1.17,0.8L-1.17,0.8Z","square","M-1,-1L1,1M-1,1L1,-1","M-1,-1L1,1M-1,1L1,-1M0,-1.3L0,1.3"]},"legend":{"orient":"none","legendX":793,"legendY":224.5,"title":null}},
"fill":{"field":"series","type":"nominal","title":null,"scale":{"domain":["O2","CO2","CO","CxHy","NOx"],"range":["transparent","#FFFF00","#FF00FF","transparent","transparent"]},"legend":{"orient":"none","legendX":793,"legendY":224.5,"title":null}},
"stroke":{"field":"series","type":"nominal","title":null,"scale":{"domain":["O2","CO2","CO","CxHy","NOx"],"range":["#000080","#FF0000","#FF00FF","#00FFFF","#800080"]},"legend":{"orient":"none","legendX":793,"legendY":224.5,"title":null}}}},
{"transform":[{"fold":["NOx"],"as":["series","v"]}],
"mark":{"type":"point","filled":true,"size":110,"strokeWidth":1.3,"opacity":1},
"encoding":{
"shape":{"field":"series","type":"nominal","title":null,"scale":{"domain":["O2","CO2","CO","CxHy","NOx"],"range":["M-4,0L4,0","M-4,0L-0.7,0M0.7,0L4,0M0,-1.2L1.17,0.8L-1.17,0.8Z","square","M-1,-1L1,1M-1,1L1,-1","M-1,-1L1,1M-1,1L1,-1M0,-1.3L0,1.3"]},"legend":{"orient":"none","legendX":793,"legendY":224.5,"title":null}},
"fill":{"field":"series","type":"nominal","title":null,"scale":{"domain":["O2","CO2","CO","CxHy","NOx"],"range":["transparent","#FFFF00","#FF00FF","transparent","transparent"]},"legend":{"orient":"none","legendX":793,"legendY":224.5,"title":null}},
"stroke":{"field":"series","type":"nominal","title":null,"scale":{"domain":["O2","CO2","CO","CxHy","NOx"],"range":["#000080","#FF0000","#FF00FF","#00FFFF","#800080"]},"legend":{"orient":"none","legendX":793,"legendY":224.5,"title":null}}}}
]
}
],
"resolve":{"scale":{"y":"independent"}}
}
